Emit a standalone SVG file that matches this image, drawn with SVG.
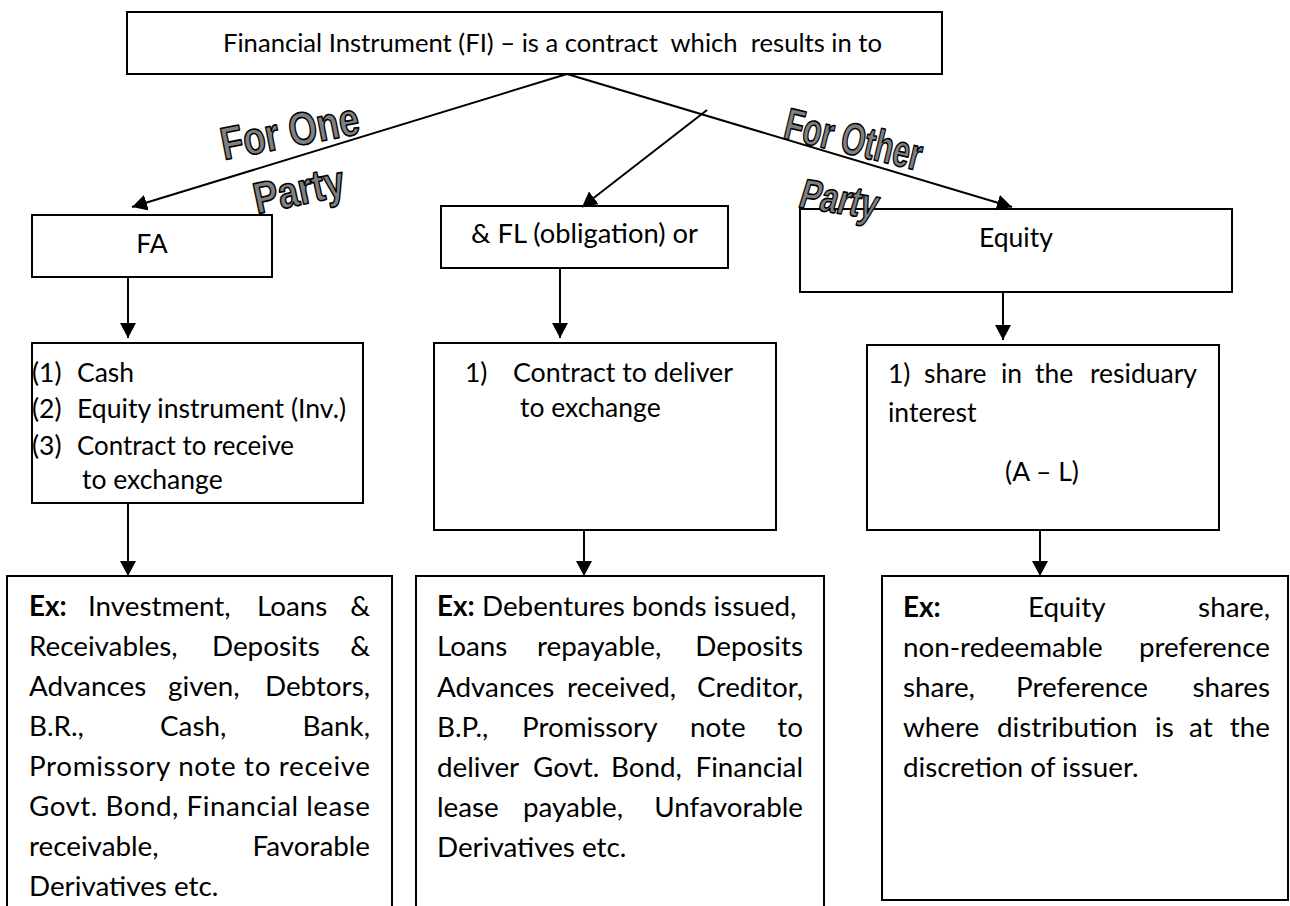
<svg xmlns="http://www.w3.org/2000/svg" width="1290" height="906" viewBox="0 0 1290 906">
  <defs>
    <style>
      .box{fill:#fff;stroke:#000;stroke-width:2}
      .open{fill:none;stroke:#000;stroke-width:2}
      .t{font-family:Lato,"Liberation Sans",sans-serif;fill:#000}
      .top{font-size:25px}
      .mid{font-size:26.5px}
      .ex{font-size:27.8px}
      .b{font-weight:bold}
      .end{text-anchor:end}
      .ctr{text-anchor:middle}
      .conn line{stroke:#000;stroke-width:2;marker-end:url(#ah)}
      .wa{font-family:"Liberation Sans",Arial,sans-serif;font-weight:bold;fill:#808080;stroke:#000;stroke-width:1.6;stroke-linejoin:round}
    </style>
    <marker id="ah" markerUnits="userSpaceOnUse" markerWidth="15" markerHeight="16" viewBox="0 0 15 16" refX="15" refY="8" orient="auto">
      <path d="M0,0 L15,8 L0,16 z" fill="#000"/>
    </marker>
  </defs>
  <rect width="1290" height="906" fill="#fff"/>

  <!-- root -->
  <g id="fi">
    <rect class="box" x="127" y="12" width="815" height="62"/>
    <text class="t top" x="223" y="52" xml:space="preserve" textLength="659" lengthAdjust="spacingAndGlyphs">Financial Instrument (FI) – is a contract  which  results in to</text>
  </g>

  <!-- level 1 -->
  <g id="fa">
    <rect class="box" x="32" y="215" width="240" height="62"/>
    <text class="t mid ctr" x="152" y="253">FA</text>
  </g>
  <g id="fl">
    <rect class="box" x="441" y="206" width="287" height="62"/>
    <text class="t mid" x="471" y="243" textLength="227" lengthAdjust="spacingAndGlyphs">&amp; FL (obligation) or</text>
  </g>
  <g id="equity">
    <rect class="box" x="800" y="209" width="432" height="83"/>
    <text class="t mid" x="979" y="247">Equity</text>
  </g>

  <!-- level 2 -->
  <g id="fa-items">
    <rect class="box" x="32" y="343" width="331" height="160"/>
    <text class="t mid" y="382"><tspan x="32">(1)</tspan><tspan x="77">Cash</tspan></text>
    <text class="t mid" y="418"><tspan x="32">(2)</tspan><tspan x="77" textLength="269" lengthAdjust="spacingAndGlyphs">Equity instrument (Inv.)</tspan></text>
    <text class="t mid" y="455"><tspan x="32">(3)</tspan><tspan x="77" textLength="217" lengthAdjust="spacingAndGlyphs">Contract to receive</tspan></text>
    <text class="t mid" x="82" y="489">to exchange</text>
  </g>
  <g id="fl-items">
    <rect class="box" x="434" y="343" width="342" height="187"/>
    <text class="t mid" y="382"><tspan x="465">1)</tspan><tspan x="513" textLength="220" lengthAdjust="spacingAndGlyphs">Contract to deliver</tspan></text>
    <text class="t mid" x="520" y="417">to exchange</text>
  </g>
  <g id="eq-items">
    <rect class="box" x="867" y="345" width="352" height="185"/>
    <text class="t mid" y="383"><tspan x="888">1)</tspan><tspan x="924">share</tspan><tspan x="1001">in</tspan><tspan x="1035">the</tspan></text>
    <text class="t mid end" x="1197" y="383">residuary</text>
    <text class="t mid" x="888" y="422">interest</text>
    <text class="t mid ctr" x="1042" y="481">(A – L)</text>
  </g>

  <!-- level 3: examples (justified lines: inner words placed, last word flush right) -->
  <g id="fa-examples">
    <path class="open" d="M7,906 V576 H392 V906"/>
    <text class="t ex" y="616"><tspan x="29" class="b">Ex:</tspan><tspan x="88">Investment,</tspan><tspan x="257">Loans</tspan></text>
    <text class="t ex end" x="370" y="616">&amp;</text>
    <text class="t ex" y="656"><tspan x="29">Receivables,</tspan><tspan x="212">Deposits</tspan></text>
    <text class="t ex end" x="370" y="656">&amp;</text>
    <text class="t ex" y="696"><tspan x="29">Advances</tspan><tspan x="168">given,</tspan></text>
    <text class="t ex end" x="370" y="696">Debtors,</text>
    <text class="t ex" y="736"><tspan x="29">B.R.,</tspan><tspan x="160">Cash,</tspan></text>
    <text class="t ex end" x="370" y="736">Bank,</text>
    <text class="t ex" x="29" y="776" textLength="341" lengthAdjust="spacing">Promissory note to receive</text>
    <text class="t ex" x="29" y="816" textLength="341" lengthAdjust="spacing">Govt. Bond, Financial lease</text>
    <text class="t ex" x="29" y="856">receivable,</text>
    <text class="t ex end" x="370" y="856">Favorable</text>
    <text class="t ex" x="29" y="896">Derivatives etc.</text>
  </g>
  <g id="fl-examples">
    <path class="open" d="M416,906 V576 H824 V906"/>
    <text class="t ex" y="616"><tspan x="437" class="b">Ex:</tspan><tspan x="482">Debentures bonds issued,</tspan></text>
    <text class="t ex" y="656"><tspan x="437">Loans</tspan><tspan x="537">repayable,</tspan></text>
    <text class="t ex end" x="803" y="656">Deposits</text>
    <text class="t ex" y="697"><tspan x="437">Advances</tspan><tspan x="567">received,</tspan></text>
    <text class="t ex end" x="803" y="697">Creditor,</text>
    <text class="t ex" y="737"><tspan x="437">B.P.,</tspan><tspan x="522">Promissory</tspan><tspan x="690">note</tspan></text>
    <text class="t ex end" x="803" y="737">to</text>
    <text class="t ex" y="777"><tspan x="437">deliver</tspan><tspan x="533">Govt.</tspan><tspan x="611">Bond,</tspan></text>
    <text class="t ex end" x="803" y="777">Financial</text>
    <text class="t ex" y="817"><tspan x="437">lease</tspan><tspan x="523">payable,</tspan></text>
    <text class="t ex end" x="803" y="817">Unfavorable</text>
    <text class="t ex" x="437" y="857">Derivatives etc.</text>
  </g>
  <g id="eq-examples">
    <rect class="box" x="882" y="576" width="406" height="324"/>
    <text class="t ex" y="617"><tspan x="903" class="b">Ex:</tspan><tspan x="1028">Equity</tspan></text>
    <text class="t ex end" x="1270" y="617">share,</text>
    <text class="t ex" x="903" y="657">non-redeemable</text>
    <text class="t ex end" x="1270" y="657">preference</text>
    <text class="t ex" y="697"><tspan x="903">share,</tspan><tspan x="1016">Preference</tspan></text>
    <text class="t ex end" x="1270" y="697">shares</text>
    <text class="t ex" y="737"><tspan x="903">where</tspan><tspan x="997">distribution</tspan><tspan x="1155">is</tspan><tspan x="1189">at</tspan></text>
    <text class="t ex end" x="1270" y="737">the</text>
    <text class="t ex" x="903" y="777">discretion of issuer.</text>
  </g>

  <!-- connectors -->
  <g id="connectors" class="conn">
    <line x1="567" y1="74" x2="132" y2="207"/>
    <line x1="567" y1="74" x2="1012" y2="207"/>
    <line x1="707" y1="110" x2="582" y2="207"/>
    <line x1="128" y1="277" x2="128" y2="338"/>
    <line x1="560" y1="268" x2="560" y2="338"/>
    <line x1="1003" y1="292" x2="1003" y2="340"/>
    <line x1="128" y1="503" x2="128" y2="576"/>
    <line x1="584" y1="530" x2="584" y2="576"/>
    <line x1="1040" y1="530" x2="1040" y2="576"/>
  </g>

  <!-- branch captions -->
  <g id="caption-one">
    <text class="wa" font-size="46" transform="translate(224,160) rotate(-11)" textLength="140" lengthAdjust="spacingAndGlyphs">For One</text>
    <text class="wa" font-size="44" transform="translate(257,214) rotate(-12)" textLength="92" lengthAdjust="spacingAndGlyphs">Party</text>
  </g>
  <g id="caption-other">
    <text class="wa" font-size="45" transform="translate(782,138) rotate(13.5)" textLength="140" lengthAdjust="spacingAndGlyphs">For Other</text>
    <text class="wa" font-size="42" transform="translate(797,207) rotate(9) skewX(-8)" textLength="78" lengthAdjust="spacingAndGlyphs">Party</text>
  </g>
</svg>
